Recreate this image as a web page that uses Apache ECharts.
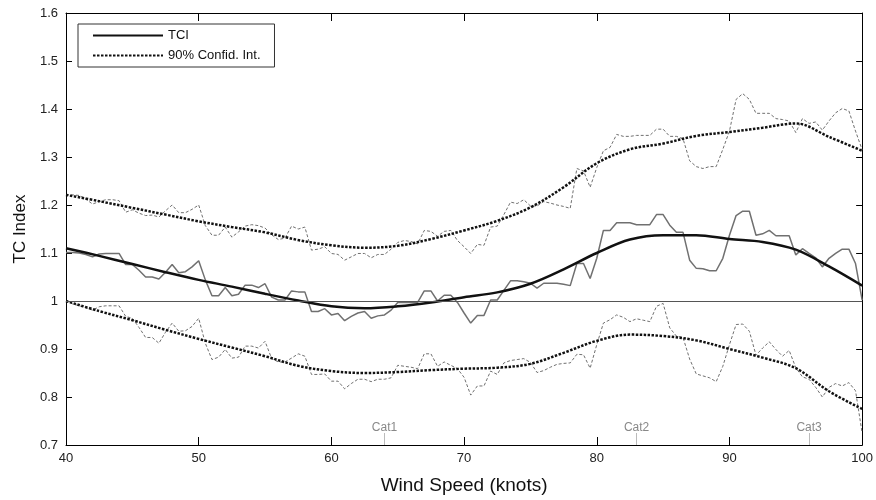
<!DOCTYPE html>
<html>
<head>
<meta charset="utf-8">
<script src="https://cdn.jsdelivr.net/npm/echarts@6/dist/echarts.min.js"></script>
<style>html,body{margin:0;padding:0;background:#fff}#c{width:876px;height:500px}</style>
</head>
<body>
<div id="c"></div>
<script>
// Wind speed sampling (knots) for the raw (noisy) curves
const noisyX = [
 40,40.5,41,41.5,42,42.5,43,43.5,44,44.5,
 45,45.5,46,46.5,47,47.5,48,48.5,49,49.5,
 50,50.5,51,51.5,52,52.5,53,53.5,54,54.5,
 55,55.5,56,56.5,57,57.5,58,58.5,59,59.5,
 60,60.5,61,61.5,62,62.5,63,63.5,64,64.5,
 65,65.5,66,66.5,67,67.5,68,68.5,69,69.5,
 70,70.5,71,71.5,72,72.5,73,73.5,74,74.5,
 75,75.5,76,76.5,77,77.5,78,78.5,79,79.5,
 80,80.5,81,81.5,82,82.5,83,83.5,84,84.5,
 85,85.5,86,86.5,87,87.5,88,88.5,89,89.5,
 90,90.5,91,91.5,92,92.5,93,93.5,94,94.5,
 95,95.5,96,96.5,97,97.5,98,98.5,99,99.5,
 100];
const tciNoisy = [
 1.101,1.101,1.100,1.097,1.092,1.098,1.099,1.099,1.099,1.076,
 1.076,1.064,1.050,1.050,1.046,1.060,1.076,1.059,1.061,1.071,
 1.084,1.044,1.011,1.011,1.028,1.011,1.014,1.033,1.033,1.028,
 1.036,1.008,1.002,1.002,1.021,1.019,1.019,0.978,0.978,0.984,
 0.971,0.974,0.959,0.968,0.975,0.978,0.964,0.969,0.971,0.981,
 0.997,0.997,0.997,0.997,1.021,1.021,1.000,1.012,1.012,0.997,
 0.975,0.954,0.970,0.970,1.002,1.002,1.022,1.042,1.042,1.040,
 1.037,1.027,1.037,1.037,1.037,1.035,1.032,1.078,1.078,1.047,
 1.089,1.147,1.147,1.163,1.163,1.163,1.159,1.159,1.159,1.180,
 1.180,1.158,1.143,1.143,1.085,1.068,1.067,1.063,1.063,1.089,
 1.137,1.178,1.187,1.187,1.137,1.140,1.147,1.136,1.136,1.136,
 1.096,1.109,1.099,1.090,1.071,1.089,1.099,1.108,1.108,1.078,
 1.002];
const upperNoisy = [
 1.221,1.221,1.220,1.212,1.202,1.207,1.211,1.211,1.209,1.185,
 1.190,1.183,1.178,1.179,1.175,1.188,1.200,1.184,1.184,1.191,
 1.200,1.157,1.137,1.137,1.154,1.133,1.144,1.156,1.159,1.157,
 1.152,1.138,1.128,1.131,1.156,1.150,1.154,1.106,1.108,1.113,
 1.099,1.097,1.085,1.092,1.099,1.099,1.090,1.097,1.097,1.108,
 1.122,1.126,1.124,1.119,1.147,1.145,1.135,1.145,1.147,1.126,
 1.113,1.099,1.118,1.116,1.154,1.156,1.180,1.206,1.203,1.211,
 1.198,1.198,1.207,1.204,1.200,1.197,1.193,1.276,1.271,1.237,
 1.278,1.313,1.320,1.347,1.343,1.343,1.345,1.345,1.345,1.358,
 1.358,1.343,1.343,1.338,1.292,1.280,1.276,1.280,1.280,1.316,
 1.354,1.420,1.432,1.420,1.391,1.391,1.391,1.380,1.378,1.375,
 1.351,1.380,1.370,1.373,1.356,1.375,1.392,1.401,1.396,1.354,
 1.315];
const lowerNoisy = [
 1.000,0.994,0.990,0.986,0.981,0.988,0.990,0.990,0.990,0.968,
 0.964,0.945,0.924,0.924,0.912,0.935,0.954,0.937,0.938,0.947,
 0.964,0.912,0.878,0.883,0.899,0.881,0.883,0.906,0.906,0.902,
 0.916,0.880,0.873,0.873,0.881,0.890,0.885,0.847,0.847,0.848,
 0.833,0.833,0.817,0.828,0.837,0.837,0.832,0.837,0.837,0.840,
 0.866,0.864,0.862,0.859,0.890,0.890,0.864,0.873,0.866,0.859,
 0.841,0.804,0.823,0.823,0.854,0.847,0.871,0.876,0.878,0.880,
 0.872,0.851,0.855,0.862,0.868,0.870,0.871,0.889,0.888,0.860,
 0.909,0.954,0.961,0.971,0.966,0.957,0.963,0.960,0.957,0.989,
 0.995,0.944,0.927,0.924,0.879,0.848,0.844,0.840,0.832,0.864,
 0.909,0.951,0.952,0.937,0.887,0.902,0.915,0.899,0.885,0.897,
 0.861,0.842,0.837,0.820,0.800,0.820,0.828,0.823,0.830,0.813,
 0.725];

// Smoothed curves
const smoothX = [40,42.5,45,47.5,50,52.5,55,57.5,60,62.5,65,67.5,70,72.5,75,77.5,80,82.5,85,87.5,90,92.5,95,97.5,100];
const tciSmooth   = [1.110,1.094,1.077,1.060,1.044,1.030,1.015,1.001,0.989,0.985,0.989,0.997,1.008,1.018,1.036,1.066,1.100,1.128,1.137,1.137,1.129,1.123,1.107,1.072,1.032];
const upperSmooth = [1.221,1.208,1.194,1.180,1.166,1.154,1.143,1.127,1.116,1.111,1.115,1.129,1.147,1.167,1.195,1.237,1.287,1.316,1.328,1.344,1.352,1.361,1.370,1.342,1.313];
const lowerSmooth = [1.000,0.979,0.960,0.940,0.921,0.903,0.885,0.865,0.854,0.850,0.852,0.856,0.859,0.861,0.869,0.892,0.917,0.930,0.927,0.918,0.900,0.882,0.860,0.812,0.775];

// Hurricane category thresholds
const catNames = ['Cat1','Cat2','Cat3'];
const catX = [64, 83, 96];

const xTicks = [40,50,60,70,80,90,100];
const yTicks = [0.7,0.8,0.9,1,1.1,1.2,1.3,1.4,1.5,1.6];

const pairs = (xs, ys) => xs.map((x, i) => [x, ys[i]]);
const FONT = 'Liberation Sans, Arial, Helvetica, sans-serif';

const chart = echarts.init(document.getElementById('c'), null, {renderer: 'canvas'});
const axisLine = {show: true, lineStyle: {color: '#000', width: 1}};
const option = {
  animation: false,
  backgroundColor: '#fff',
  textStyle: {fontFamily: FONT},
  grid: {left: 66, right: 11, top: 13, bottom: 52},
  legend: {
    left: 78, top: 24,
    orient: 'vertical',
    data: ['TCI', '90% Confid. Int.'],
    itemWidth: 70, itemHeight: 12, itemGap: 7,
    padding: [5, 14, 5, 14],
    borderColor: '#333', borderWidth: 1, backgroundColor: '#fff',
    itemStyle: {opacity: 0, borderWidth: 0},
    textStyle: {fontSize: 13, color: '#111', fontFamily: FONT},
    selectedMode: false
  },
  xAxis: [{
    type: 'value', min: xTicks[0], max: xTicks[xTicks.length - 1], interval: 10,
    position: 'bottom',
    axisLine: axisLine,
    axisTick: {show: true, inside: true, length: 8, lineStyle: {color: '#000'}},
    axisLabel: {margin: 7, fontSize: 13, color: '#222', fontFamily: FONT},
    splitLine: {show: false},
    name: 'Wind Speed (knots)', nameLocation: 'middle', nameGap: 31,
    nameTextStyle: {fontSize: 19, color: '#111', fontFamily: FONT}
  }, {
    type: 'value', min: 40, max: 100, interval: 10, position: 'top',
    axisLine: axisLine,
    axisTick: {show: true, inside: true, length: 8, lineStyle: {color: '#000'}},
    axisLabel: {show: false}, splitLine: {show: false}
  }],
  yAxis: [{
    type: 'value', min: yTicks[0], max: yTicks[yTicks.length - 1], interval: 0.1,
    axisLine: axisLine,
    axisTick: {show: true, inside: true, length: 6, lineStyle: {color: '#000'}},
    axisLabel: {margin: 8, fontSize: 13, color: '#222', fontFamily: FONT},
    splitLine: {show: false},
    name: 'TC Index', nameLocation: 'middle', nameGap: 36, nameRotate: 90,
    nameTextStyle: {fontSize: 17, color: '#111', fontFamily: FONT}
  }, {
    type: 'value', min: 0.7, max: 1.6, interval: 0.1, position: 'right',
    axisLine: axisLine,
    axisTick: {show: true, inside: true, length: 6, lineStyle: {color: '#000'}},
    axisLabel: {show: false}, splitLine: {show: false}
  }],
  series: [
    {
      name: 'tciRaw', type: 'line', data: pairs(noisyX, tciNoisy), symbol: 'none',
      lineStyle: {color: '#707070', width: 1.5}, z: 2,
      markLine: {
        silent: true, symbol: 'none', label: {show: false},
        lineStyle: {color: '#555', width: 1, type: 'solid'},
        data: [{yAxis: 1}]
      }
    },
    {
      name: 'upperRaw', type: 'line', data: pairs(noisyX, upperNoisy), symbol: 'none',
      lineStyle: {color: '#707070', width: 1, type: [3, 2]}, z: 2
    },
    {
      name: 'lowerRaw', type: 'line', data: pairs(noisyX, lowerNoisy), symbol: 'none',
      lineStyle: {color: '#707070', width: 1, type: [3, 2]}, z: 2
    },
    {
      name: 'TCI', type: 'line', data: pairs(smoothX, tciSmooth), symbol: 'none', smooth: 0.35,
      itemStyle: {color: '#111'},
      lineStyle: {color: '#111', width: 2.5}, z: 3
    },
    {
      name: '90% Confid. Int.', type: 'line', data: pairs(smoothX, upperSmooth), symbol: 'none', smooth: 0.35,
      itemStyle: {color: '#111'},
      lineStyle: {color: '#111', width: 2.5, type: [2.5, 1.5]}, z: 3
    },
    {
      name: '90% Confid. Int.', type: 'line', data: pairs(smoothX, lowerSmooth), symbol: 'none', smooth: 0.35,
      itemStyle: {color: '#111'},
      lineStyle: {color: '#111', width: 2.5, type: [2.5, 1.5]}, z: 3
    },
    {
      name: 'cats', type: 'line', data: [], symbol: 'none',
      markLine: {
        silent: true, symbol: 'none',
        lineStyle: {color: '#bbb', width: 1, type: 'solid'},
        label: {show: true, position: 'end', distance: 0, offset: [0, 1], color: '#888', fontSize: 12, fontFamily: FONT},
        data: catX.map((x, i) => [
          {coord: [x, 0.7], name: catNames[i]},
          {coord: [x, 0.725]}
        ])
      }
    }
  ]
};
option.series[6].markLine.label.formatter = p => p.name;
chart.setOption(option);
</script>
</body>
</html>
